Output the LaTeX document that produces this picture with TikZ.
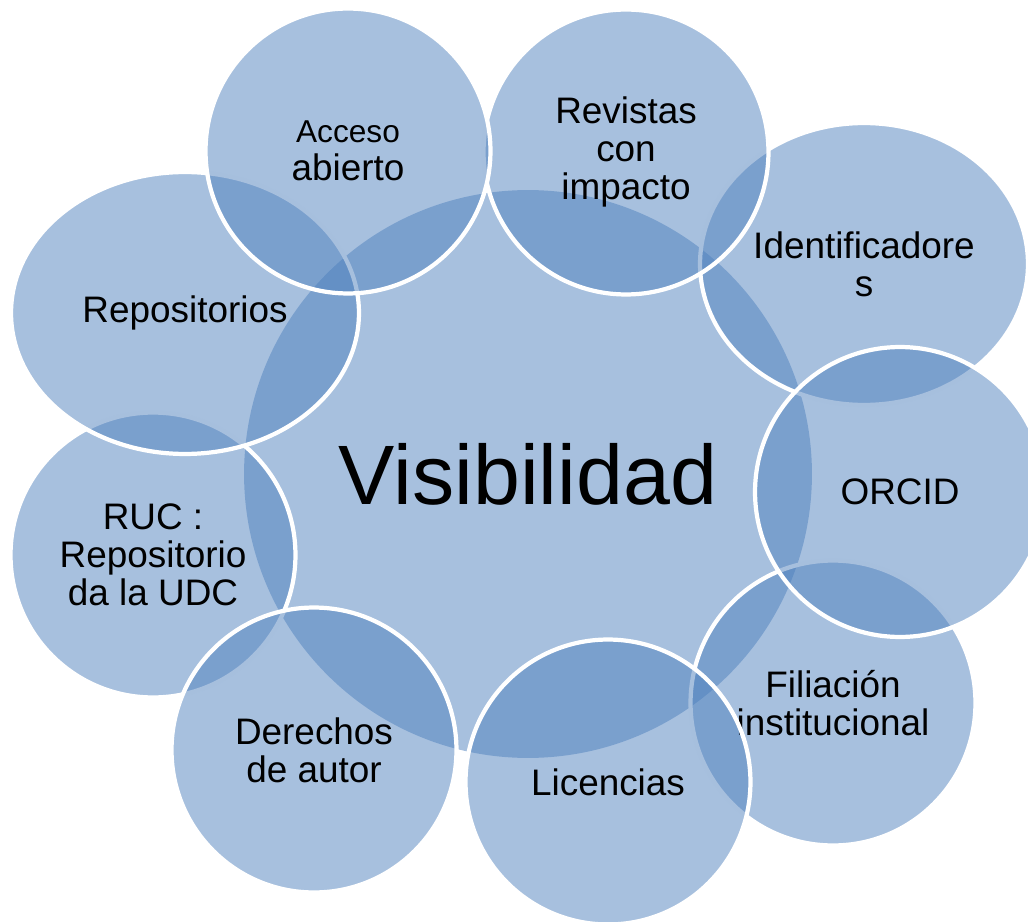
\documentclass[tikz,border=0pt]{standalone}
\usepackage{fontspec}
\setmainfont{Liberation Sans}
\usepackage{tikz}
\usetikzlibrary{shapes.geometric}
\usepackage{xcolor}
\definecolor{petalblue}{HTML}{4F81BD}

\begin{document}
\begin{tikzpicture}[
    x=0.02cm, y=-0.02cm,
    every node/.style={font=\fontsize{21}{21.6}\selectfont, align=center, inner sep=0pt},
    blob/.style={fill=petalblue, fill opacity=0.5, text opacity=1, draw=white, line width=2.4pt},
    petal/.style={blob, circle, minimum size=5.7cm},
    oval/.style={blob, ellipse, minimum width=#1, minimum height=5.64cm}
]
    \useasboundingbox (0,0) rectangle (1028,922);

    % Central circle, no border.
    \node[circle, minimum size=11.36cm, fill=petalblue, fill opacity=0.5, text opacity=1,
          font=\fontsize{48}{48}\selectfont] (vis) at (528,474) {Visibilidad};

    % Outer circles, in the order they are stacked.
    \node[oval=6.56cm] (ident) at (864,264) {Identificadore\\s};
    \node[petal] (filia) at (833,703) {Filiación\\institucional};
    \node[petal, minimum size=5.8cm] (orcid) at (900,492) {ORCID};
    \node[petal] (revis) at (626,152) {Revistas\\con\\impacto};
    \node[petal] (ruc) at (153,555) {RUC :\\Repositorio\\da la UDC};
    \node[petal] (derech) at (314,750) {Derechos\\de autor};
    \node[petal] (licen) at (608,782) {Licencias};
    \node[oval=6.96cm] (repos) at (185,313) {Repositorios};
    \node[petal] (acceso) at (348,151) {{\fontsize{18}{18}\selectfont Acceso}\\abierto};
\end{tikzpicture}
\end{document}
